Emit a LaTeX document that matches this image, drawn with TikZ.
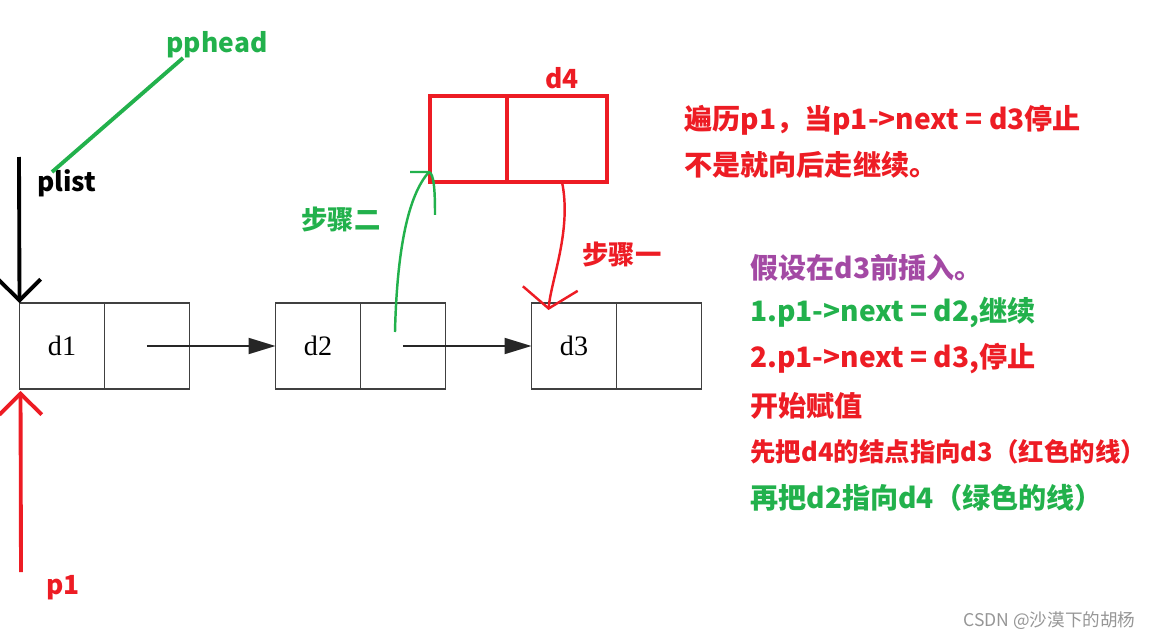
\documentclass[tikz,border=0pt]{standalone}
\usepackage{fontspec}
\setmainfont{Noto Sans CJK SC}
\newfontfamily\caixafont{Liberation Serif}
\definecolor{vermelhoPaint}{RGB}{237,28,36}
\definecolor{verdePaint}{RGB}{34,177,76}
\definecolor{roxoPaint}{RGB}{163,73,164}
\definecolor{cinzaMarca}{RGB}{150,150,150}
\usetikzlibrary{arrows.meta,positioning,calc}
\tikzset{
  caixa/.style={rectangle, draw=black!75, line width=1pt, minimum width=1.7cm,
                minimum height=1.72cm, inner sep=0pt, outer sep=0pt,
                font=\caixafont\fontsize{16}{18}\selectfont},
  caixanova/.style={rectangle, draw=vermelhoPaint, line width=2.2pt,
                    minimum height=1.72cm, inner sep=0pt, outer sep=0pt},
  seta/.style={-{Triangle[length=0.54cm,width=0.32cm]}, line width=1.1pt, black!85},
  setamao/.style={-{Straight Barb[length=0.42cm,width=0.85cm]}, line width=2.2pt},
  rotulo/.style={font=\fontsize{15}{18}\selectfont\bfseries, inner sep=0pt},
  texto/.style={font=\fontsize{16}{19}\selectfont\bfseries, inner sep=0pt, anchor=west},
}

\begin{document}
\begin{tikzpicture}[x=0.02cm, y=-0.02cm, node distance=0pt]
  \useasboundingbox (0,0) rectangle (1149,639);
  \node[caixa] (d1) at (62,346) {d1};
  \node[caixa, right=of d1] (d1p) {};
  \node[caixa] (d2) at (318,346) {d2};
  \node[caixa, right=of d2] (d2p) {};
  \node[caixa] (d3) at (574,346) {d3};
  \node[caixa, right=of d3] (d3p) {};
  \draw[seta] (d1p.center) -- (d2.west);
  \draw[seta] (d2p.center) -- (d3.west);

  \node[caixanova, minimum width=1.54cm] (d4a) at (468.5,139) {};
  \node[caixanova, minimum width=2cm, right=of d4a] (d4b) {};
  \node[rotulo, text=vermelhoPaint] (d4) at (562,78) {d4};

  \node[rotulo] (plist) at (67,183) {plist};
  \node[rotulo, text=verdePaint] (pphead) at (217,45) {pphead};
  \node[rotulo, text=vermelhoPaint] (p1) at (63,588) {p1};
  \coordinate (ph0) at (52,172);
  \coordinate (ph1) at (183,58);
  \draw[verdePaint, line width=2.2pt] (ph0) -- (ph1);
  \coordinate (pl0) at (19,157);
  \draw[setamao, black] (pl0) -- (d1.north west);
  \coordinate (p10) at (21,572);
  \draw[setamao, vermelhoPaint] (p10) -- ($(d1.south west)+(1,2)$);

  \node[rotulo, text=verdePaint] (passo2) at (341,219) {步骤二};
  \node[rotulo, text=vermelhoPaint] (passo1) at (622,254) {步骤一};
  \coordinate (g1) at ($(d4a.south west)+(-1,-10)$);
  \draw[verdePaint, line width=1.4pt] ($(d2p.center)+(-8,-14)$)
       .. controls (397,250) and (408,195) .. (g1);
  \draw[verdePaint, line width=1.4pt] ($(g1)+(-19,0)$) -- (g1)
       .. controls +(5,2) and +(0,-25) .. ($(g1)+(6,43)$);
  \draw[vermelhoPaint, line width=1.4pt,
        -{Straight Barb[length=0.4cm,width=1.1cm]}]
       ($(d4b.south west)+(55,0)$) .. controls (572,230) and (551,280) .. ($(d3.north west)+(17,7)$);

  \node[texto, text=vermelhoPaint] (obs1) at (684,120) {遍历p1，当p1->next = d3停止};
  \node[texto, text=vermelhoPaint] (obs2) at (684,165) {不是就向后走继续。};
  \node[texto, text=roxoPaint] (hip) at (750,268) {假设在d3前插入。};
  \node[texto, text=verdePaint] (l1) at (750,313) {1.p1->next = d2,继续};
  \node[texto, text=vermelhoPaint] (l2) at (750,359) {2.p1->next = d3,停止};
  \node[texto, text=vermelhoPaint] (l3) at (750,406) {开始赋值};
  \node[texto, text=vermelhoPaint, font=\fontsize{14.5}{18}\selectfont\bfseries]
       (l4) at (750,452) {先把d4的结点指向d3（红色的线）};
  \node[texto, text=verdePaint] (l5) at (750,498) {再把d2指向d4（绿色的线）};
  \node[anchor=west, inner sep=0pt, text=cinzaMarca, font=\fontsize{10}{12}\selectfont]
       (marca) at (963,621) {CSDN @沙漠下的胡杨};
\end{tikzpicture}
\end{document}
